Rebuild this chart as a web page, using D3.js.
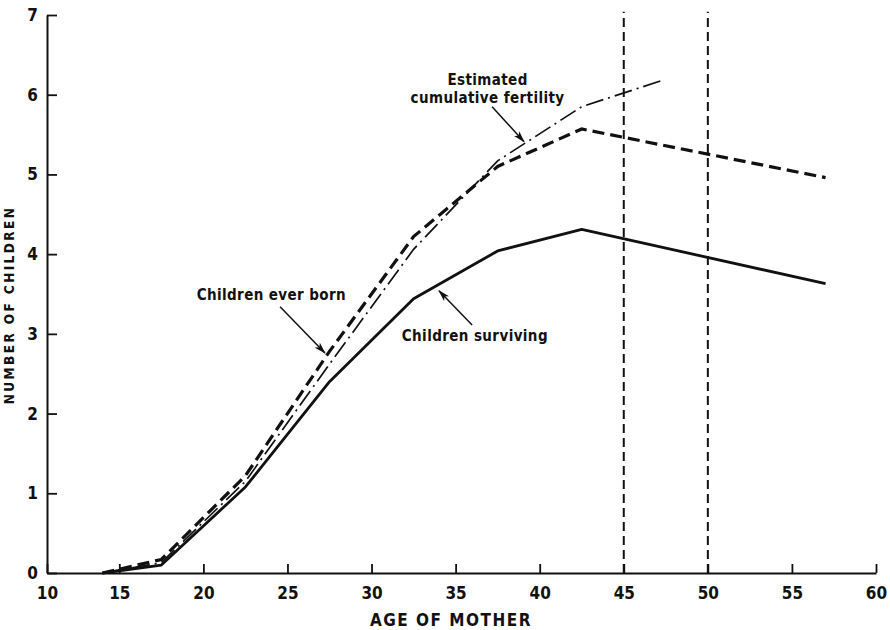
<!DOCTYPE html>
<html>
<head>
<meta charset="utf-8">
<script src="https://cdn.jsdelivr.net/npm/d3@7"></script>
<style>
  body { margin: 0; background: #fff; }
  text { font-family: "DejaVu Sans Condensed", "DejaVu Sans", sans-serif; font-stretch: condensed; font-weight: bold; fill: #111; }
</style>
</head>
<body>
<div id="chart"></div>
<script>
// age groups (midpoints) and values
var ages      = [14, 17.5, 22.5, 27.5, 32.5, 37.5, 42.5, 57];
var everBorn  = [0, 0.17, 1.22, 2.78, 4.22, 5.10, 5.57, 4.96];
var surviving = [0, 0.10, 1.08, 2.40, 3.44, 4.04, 4.31, 3.63];
var estAges   = [14, 17.5, 22.5, 27.5, 32.5, 37.5, 42.5, 47.3];
var estimated = [0, 0.13, 1.15, 2.62, 4.06, 5.17, 5.85, 6.18];

var xTicks = [10, 15, 20, 25, 30, 35, 40, 45, 50, 55, 60];
var yTicks = [0, 1, 2, 3, 4, 5, 6, 7];
var refAges = [45, 50];     // vertical reference lines
var xStart = 10.7;          // where the drawn axis actually begins

var width = 890, height = 630;
var fontStack = "'DejaVu Sans Condensed', 'DejaVu Sans', sans-serif";

var svg = d3.select("#chart").append("svg")
    .attr("width", width)
    .attr("height", height);

var x = d3.scaleLinear().domain([xStart, 60]).range([47, 876]);
var y = d3.scaleLinear().domain([0, 7]).range([573, 15]);

//arrow marker
svg.append("defs").append("marker")
    .attr("id", "arrow")
    .attr("viewBox", "0 0 12 8")
    .attr("refX", 11).attr("refY", 4)
    .attr("markerWidth", 12).attr("markerHeight", 8)
    .attr("markerUnits", "userSpaceOnUse")
    .attr("orient", "auto")
  .append("path")
    .attr("d", "M0,0.5 L12,4 L0,7.5 L3,4 Z")
    .attr("fill", "#111");

// axes, ticks pointing inward
var xAxis = svg.append("g")
    .attr("transform", "translate(0," + y(0) + ")")
    .call(d3.axisBottom(x)
        .tickValues(xTicks.map(function(d) { return d === 10 ? xStart : d; }))
        .tickFormat(function(d) { return d === xStart ? "10" : d; })
        .tickSizeInner(-9).tickSizeOuter(0).tickPadding(14));

var yAxis = svg.append("g")
    .attr("transform", "translate(" + x(xStart) + ",0)")
    .call(d3.axisLeft(y)
        .tickValues(yTicks)
        .tickFormat(d3.format("d"))
        .tickSizeInner(-10).tickSizeOuter(0).tickPadding(9));

[xAxis, yAxis].forEach(function(a) {
    a.select(".domain").attr("stroke", "#111").attr("stroke-width", 2);
    a.selectAll(".tick line").attr("stroke", "#111").attr("stroke-width", 1.8);
    a.selectAll(".tick text")
        .style("font-family", fontStack)
        .style("font-weight", "bold")
        .attr("font-size", 17).attr("fill", "#111");
});

// axis titles
svg.append("text")
    .attr("x", 451).attr("y", 626)
    .attr("text-anchor", "middle")
    .attr("font-size", 17)
    .attr("letter-spacing", 1.5)
    .text("AGE OF MOTHER");

svg.append("text")
    .attr("transform", "translate(14,305) rotate(-90)")
    .attr("text-anchor", "middle")
    .attr("font-size", 13.5)
    .attr("letter-spacing", 2.4)
    .text("NUMBER OF CHILDREN");

// vertical reference lines at 45 and 50
svg.selectAll(".ref")
    .data(refAges)
    .enter().append("line")
    .attr("class", "ref")
    .attr("x1", function(d) { return x(d); })
    .attr("x2", function(d) { return x(d); })
    .attr("y1", y(0))
    .attr("y2", y(7.04))
    .attr("stroke", "#111")
    .attr("stroke-width", 2)
    .attr("stroke-dasharray", "9,5");

var line = d3.line()
    .x(function(d) { return x(d[0]); })
    .y(function(d) { return y(d[1]); });

function pairs(xs, ys) { return xs.map(function(a, i) { return [a, ys[i]]; }); }

// estimated cumulative fertility (dash-dot)
svg.append("path")
    .datum(pairs(estAges, estimated))
    .attr("fill", "none")
    .attr("stroke", "#111")
    .attr("stroke-width", 1.7)
    .attr("stroke-dasharray", "18,5,2,5")
    .attr("d", line);

// children ever born (heavy dashed)
svg.append("path")
    .datum(pairs(ages, everBorn))
    .attr("fill", "none")
    .attr("stroke", "#111")
    .attr("stroke-width", 3.2)
    .attr("stroke-dasharray", "12,6")
    .attr("d", line);

// children surviving (solid)
svg.append("path")
    .datum(pairs(ages, surviving))
    .attr("fill", "none")
    .attr("stroke", "#111")
    .attr("stroke-width", 2.8)
    .attr("stroke-linejoin", "round")
    .attr("d", line);

// annotations, positioned in data units
var labels = [
    {t: "Estimated", a: 36.9, v: 6.12, anchor: "middle"},
    {t: "cumulative fertility", a: 36.9, v: 5.90, anchor: "middle"},
    {t: "Children ever born", a: 19.6, v: 3.42, anchor: "start"},
    {t: "Children surviving", a: 31.8, v: 2.91, anchor: "start"}
];
var arrows = [
    [[37.17, 5.85], [39.07, 5.41]],
    [[24.56, 3.34], [27.23, 2.76]],
    [[35.98, 3.11], [34.01, 3.54]]
];

svg.selectAll(".lbl")
    .data(labels)
    .enter().append("text")
    .attr("class", "lbl")
    .attr("x", function(d) { return x(d.a); })
    .attr("y", function(d) { return y(d.v); })
    .attr("text-anchor", function(d) { return d.anchor; })
    .attr("font-size", 15)
    .attr("letter-spacing", 0.4)
    .text(function(d) { return d.t; });

svg.selectAll(".arr")
    .data(arrows)
    .enter().append("path")
    .attr("class", "arr")
    .attr("d", line)
    .attr("fill", "none")
    .attr("stroke", "#111")
    .attr("stroke-width", 1.5)
    .attr("marker-end", "url(#arrow)");
</script>
</body>
</html>
